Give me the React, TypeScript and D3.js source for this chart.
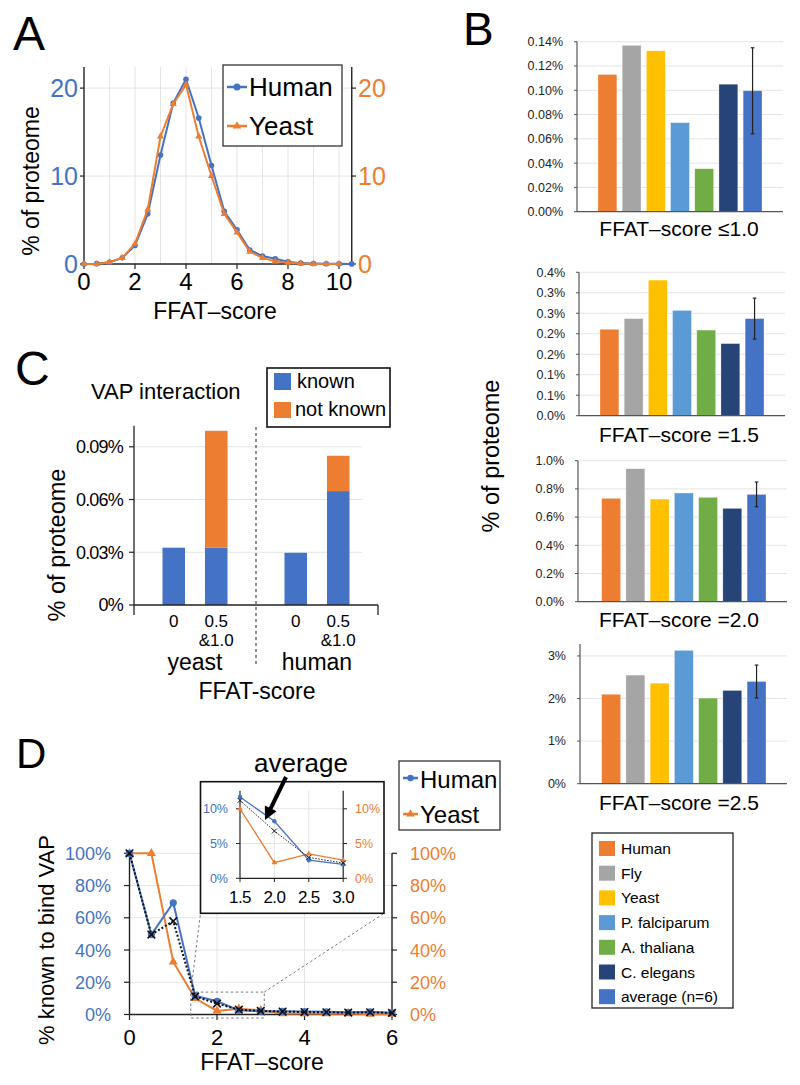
import React from 'react';
import * as d3 from 'd3';

const FONT = 'Liberation Sans, Arial, Helvetica, sans-serif';
const BLUE = '#4472C4';
const ORANGE = '#ED7D31';
const GRID = '#E4E4E4';

// ---------- Panel A data ----------
const scoresHumanA = [0, 0.5, 1, 1.5, 2, 2.5, 3, 3.5, 4, 4.5, 5, 5.5, 6, 6.5, 7, 7.5, 8, 8.5, 9, 9.5, 10, 10.5];
const humanA = [0, 0.04, 0.2, 0.7, 2.1, 5.7, 12.4, 18.3, 21.0, 16.6, 11.2, 6.0, 3.9, 1.6, 0.9, 0.6, 0.25, 0.1, 0.05, 0.03, 0.02, 0.01];
const scoresYeastA = [0, 0.5, 1, 1.5, 2, 2.5, 3, 3.5, 4, 4.5, 5, 5.5, 6, 6.5, 7, 7.5, 8, 8.5, 9, 9.5, 10];
const yeastA = [0, 0, 0.2, 0.7, 2.3, 6.2, 14.5, 18.2, 20.4, 14.5, 10.0, 5.7, 3.6, 1.4, 0.7, 0.3, 0.15, 0.05, 0, 0, 0];
const ticksYA = [0, 10, 20];
const ticksXA = [0, 2, 4, 6, 8, 10];
const gridXA = [1, 2, 3, 4, 5, 6, 7, 8, 9, 10];

// ---------- Panel B data ----------
const species = ['Human', 'Fly', 'Yeast', 'P. falciparum', 'A. thaliana', 'C. elegans', 'average (n=6)'];
const speciesColors = ['#ED7D31', '#A5A5A5', '#FFC000', '#5B9BD5', '#70AD47', '#264478', '#4472C4'];
const bTitles = ['FFAT–score ≤1.0', 'FFAT–score =1.5', 'FFAT–score =2.0', 'FFAT–score =2.5'];
const bValues10 = [0.113, 0.137, 0.1325, 0.0733, 0.0354, 0.105, 0.0996];
const bValues15 = [0.211, 0.237, 0.331, 0.257, 0.209, 0.176, 0.237];
const bValues20 = [0.733, 0.943, 0.728, 0.771, 0.74, 0.662, 0.761];
const bValues25 = [2.10, 2.55, 2.36, 3.13, 2.01, 2.19, 2.40];
const bErrors = [0.0354, 0.05, 0.088, 0.385];
const bTicks10 = [0, 0.02, 0.04, 0.06, 0.08, 0.10, 0.12, 0.14];
const bTickLabels10 = ['0.00%', '0.02%', '0.04%', '0.06%', '0.08%', '0.10%', '0.12%', '0.14%'];
const bTicks15 = [0, 0.05, 0.10, 0.15, 0.20, 0.25, 0.30, 0.35];
const bTickLabels15 = ['0.0%', '0.1%', '0.1%', '0.2%', '0.2%', '0.3%', '0.3%', '0.4%'];
const bTicks20 = [0, 0.2, 0.4, 0.6, 0.8, 1.0];
const bTickLabels20 = ['0.0%', '0.2%', '0.4%', '0.6%', '0.8%', '1.0%'];
const bTicks25 = [0, 1, 2, 3];
const bTickLabels25 = ['0%', '1%', '2%', '3%'];

// ---------- Panel C data ----------
const cGroups = ['yeast', 'human'];
const cScores = ['0', '0.5'];
const cScoreLabel1 = ['0', '0.5'];
const cScoreLabel2 = ['', '&1.0'];
const yeastKnownC = [0.0326, 0.0326];
const yeastNotKnownC = [0, 0.0665];
const humanKnownC = [0.0297, 0.0648];
const humanNotKnownC = [0, 0.0201];
const cTicks = [0, 0.03, 0.06, 0.09];
const cTickLabels = ['0%', '0.03%', '0.06%', '0.09%'];

// ---------- Panel D data ----------
const scoresD = [0, 0.5, 1, 1.5, 2, 2.5, 3, 3.5, 4, 4.5, 5, 5.5, 6];
const humanD = [100, 49.6, 69.3, 11.7, 8.2, 2.6, 2.0, 2.0, 1.8, 1.7, 1.4, 1.7, 1.1];
const yeastD = [100, 100, 32.6, 10.0, 2.25, 3.5, 2.6, 0.5, 0.6, 0.5, 0.6, 0.2, 0.3];
const averageD = [100, 49.6, 57.9, 11.2, 6.8, 3.0, 2.2, 1.8, 1.5, 1.4, 1.2, 1.4, 1.0];
const ticksYD = [0, 20, 40, 60, 80, 100];
const ticksXD = [0, 2, 4, 6];
const insetScores = [1.5, 2.0, 2.5, 3.0];
const insetTicksY = [0, 5, 10];

const tri = (size: number) => d3.symbol().type(d3.symbolTriangle).size(size)() as string;
const xMark = (x: number, y: number, s: number) => `M${x - s},${y - s}L${x + s},${y + s}M${x - s},${y + s}L${x + s},${y - s}`;

function PanelA() {
  const x = d3.scaleLinear().domain([0, 10.5]).range([84, 351.75]);
  const y = d3.scaleLinear().domain([0, 22.4]).range([264, 67]);
  const lineH = d3.line<number>().x((_, i) => x(scoresHumanA[i])).y((d) => y(d));
  const lineY = d3.line<number>().x((_, i) => x(scoresYeastA[i])).y((d) => y(d));
  const triPath = tri(22);
  return (
    <g>
      <text x={13} y={50} fontSize={48}>A</text>
      {gridXA.map((g) => (
        <line key={'gx' + g} x1={x(g)} x2={x(g)} y1={67} y2={264} stroke={GRID} strokeWidth={1} />
      ))}
      {ticksYA.slice(1).map((t) => (
        <line key={'gy' + t} x1={84} x2={351.75} y1={y(t)} y2={y(t)} stroke={GRID} strokeWidth={1} />
      ))}
      <line x1={84} x2={84} y1={67} y2={264} stroke="#222" strokeWidth={1.4} />
      <line x1={351.75} x2={351.75} y1={67} y2={264} stroke="#222" strokeWidth={1.4} />
      <line x1={84} x2={351.75} y1={264} y2={264} stroke="#222" strokeWidth={1.4} />
      {ticksYA.map((t) => (
        <g key={'ty' + t}>
          <line x1={80} x2={84} y1={y(t)} y2={y(t)} stroke="#222" strokeWidth={1.2} />
          <text x={78} y={y(t)} dy="0.36em" textAnchor="end" fontSize={25} fill={BLUE}>{t}</text>
          <line x1={351.75} x2={356} y1={y(t)} y2={y(t)} stroke="#222" strokeWidth={1.2} />
          <text x={358} y={y(t)} dy="0.36em" textAnchor="start" fontSize={25} fill={ORANGE}>{t}</text>
        </g>
      ))}
      {ticksXA.map((t) => (
        <g key={'tx' + t}>
          <line x1={x(t)} x2={x(t)} y1={264} y2={269} stroke="#222" strokeWidth={1.2} />
          <text x={x(t)} y={290} textAnchor="middle" fontSize={24}>{t}</text>
        </g>
      ))}
      <text x={215} y={319} textAnchor="middle" fontSize={23}>FFAT–score</text>
      <text transform="translate(39,181) rotate(-90)" textAnchor="middle" fontSize={23}>% of proteome</text>
      <path d={lineH(humanA) as string} fill="none" stroke={BLUE} strokeWidth={2} />
      {humanA.map((v, i) => (
        <circle key={'ha' + i} cx={x(scoresHumanA[i])} cy={y(v)} r={2.8} fill={BLUE} />
      ))}
      <path d={lineY(yeastA) as string} fill="none" stroke={ORANGE} strokeWidth={2} />
      {yeastA.map((v, i) => (
        <path key={'ya' + i} d={triPath} transform={`translate(${x(scoresYeastA[i])},${y(v)})`} fill={ORANGE} />
      ))}
      <rect x={223} y={65} width={119} height={81} fill="#fff" stroke="#333" strokeWidth={1.3} />
      <line x1={227} x2={247} y1={87} y2={87} stroke={BLUE} strokeWidth={2.5} />
      <circle cx={237} cy={87} r={3.5} fill={BLUE} />
      <text x={249} y={96} fontSize={26}>Human</text>
      <line x1={227} x2={247} y1={126} y2={126} stroke={ORANGE} strokeWidth={2.5} />
      <path d={tri(30)} transform="translate(237,126)" fill={ORANGE} />
      <text x={249} y={135} fontSize={26}>Yeast</text>
    </g>
  );
}

const bLayouts = [
  { axisX: 577, rightX: 783, baseY: 211.7, topY: 41.7, max: 0.14, barStart: 598, barEnd: 762, titleY: 236 },
  { axisX: 579, rightX: 785, baseY: 415.7, topY: 272.3, max: 0.35, barStart: 600, barEnd: 764, titleY: 441.5 },
  { axisX: 578, rightX: 787, baseY: 601.7, topY: 460.7, max: 1.0, barStart: 601.7, barEnd: 766, titleY: 626.7 },
  { axisX: 580, rightX: 787, baseY: 783.7, topY: 644, max: 3.28, barStart: 601.7, barEnd: 766, titleY: 810 },
];

function BarChartB({ idx, values, ticks, labels }: { idx: number; values: number[]; ticks: number[]; labels: string[] }) {
  const L = bLayouts[idx];
  const p = 0.22;
  const step = (L.barEnd - L.barStart) / (7 - p);
  const x = d3.scaleBand<string>().domain(species).range([L.barStart - (step * p) / 2, L.barEnd + (step * p) / 2]).paddingInner(p).paddingOuter(p / 2);
  const y = d3.scaleLinear().domain([0, L.max]).range([L.baseY, L.topY]);
  const err = bErrors[idx];
  const avgName = species[6];
  const cx = (x(avgName) as number) + x.bandwidth() / 2;
  const avgV = values[6];
  return (
    <g>
      {ticks.slice(1).map((t) => (
        <line key={'g' + t} x1={L.axisX} x2={L.rightX} y1={y(t)} y2={y(t)} stroke={GRID} strokeWidth={1} />
      ))}
      {values.map((v, i) => (
        <rect key={'b' + i} x={x(species[i])} y={y(v)} width={x.bandwidth()} height={L.baseY - y(v)} fill={speciesColors[i]} stroke="#ffffff" strokeOpacity={0.5} strokeWidth={0.6} />
      ))}
      <line x1={cx} x2={cx} y1={y(avgV + err)} y2={y(avgV - err)} stroke="#222" strokeWidth={1.2} />
      <line x1={cx - 1.8} x2={cx + 1.8} y1={y(avgV + err)} y2={y(avgV + err)} stroke="#222" strokeWidth={1.2} />
      <line x1={cx - 1.8} x2={cx + 1.8} y1={y(avgV - err)} y2={y(avgV - err)} stroke="#222" strokeWidth={1.2} />
      <line x1={L.axisX} x2={L.axisX} y1={L.topY} y2={L.baseY} stroke="#555" strokeWidth={1.2} />
      <line x1={L.axisX} x2={L.rightX} y1={L.baseY} y2={L.baseY} stroke="#555" strokeWidth={1.2} />
      {ticks.map((t, i) => (
        <g key={'t' + i}>
          <line x1={L.axisX - 3} x2={L.axisX} y1={y(t)} y2={y(t)} stroke="#555" strokeWidth={1} />
          <text x={L.axisX - 14} y={y(t)} dy="0.35em" textAnchor="end" fontSize={12.5} fill="#222">{labels[i]}</text>
        </g>
      ))}
      <text x={679} y={L.titleY} textAnchor="middle" fontSize={21}>{bTitles[idx]}</text>
    </g>
  );
}

function PanelB() {
  return (
    <g>
      <text x={463} y={45} fontSize={46}>B</text>
      <BarChartB idx={0} values={bValues10} ticks={bTicks10} labels={bTickLabels10} />
      <BarChartB idx={1} values={bValues15} ticks={bTicks15} labels={bTickLabels15} />
      <BarChartB idx={2} values={bValues20} ticks={bTicks20} labels={bTickLabels20} />
      <BarChartB idx={3} values={bValues25} ticks={bTicks25} labels={bTickLabels25} />
      <text transform="translate(499,456) rotate(-90)" textAnchor="middle" fontSize={23.5}>% of proteome</text>
      <rect x={592} y={833} width={141} height={175} fill="#fff" stroke="#222" strokeWidth={1.3} />
      {species.map((s, i) => (
        <g key={s}>
          <rect x={599} y={841 + i * 24.7} width={16} height={15} fill={speciesColors[i]} />
          <text x={621} y={854 + i * 24.7} fontSize={15.5}>{s}</text>
        </g>
      ))}
    </g>
  );
}

function PanelC() {
  const xg = d3.scaleBand<string>().domain(cGroups).range([134, 378]).padding(0);
  const xi = d3.scaleBand<string>().domain(cScores).range([0, xg.bandwidth()]).paddingInner(0.47).paddingOuter(0.67);
  const y = d3.scaleLinear().domain([0, 0.102]).range([605, 425.7]);
  const known = [yeastKnownC, humanKnownC];
  const notKnown = [yeastNotKnownC, humanNotKnownC];
  return (
    <g>
      <text x={15} y={385} fontSize={48}>C</text>
      <text x={91} y={399} fontSize={22}>VAP interaction</text>
      {cTicks.slice(1).map((t) => (
        <line key={'g' + t} x1={134} x2={362} y1={y(t)} y2={y(t)} stroke={GRID} strokeWidth={1} />
      ))}
      {cGroups.map((g, gi) => (
        <g key={g}>
          {cScores.map((s, si) => {
            const bx = (xg(g) as number) + (xi(s) as number);
            const k = known[gi][si];
            const nk = notKnown[gi][si];
            const cxm = bx + xi.bandwidth() / 2;
            return (
              <g key={s}>
                <rect x={bx} y={y(k)} width={xi.bandwidth()} height={605 - y(k)} fill={BLUE} />
                {nk > 0 && <rect x={bx} y={y(k + nk)} width={xi.bandwidth()} height={y(k) - y(k + nk)} fill={ORANGE} />}
                <text x={cxm} y={626.5} textAnchor="middle" fontSize={17}>{cScoreLabel1[si]}</text>
                {cScoreLabel2[si] && <text x={cxm} y={645.5} textAnchor="middle" fontSize={17}>{cScoreLabel2[si]}</text>}
              </g>
            );
          })}
          <text x={(xg(g) as number) + (xi(cScores[0]) as number) + (xi(cScores[1]) as number + xi.bandwidth() - (xi(cScores[0]) as number)) / 2} y={670} textAnchor="middle" fontSize={23}>{g}</text>
        </g>
      ))}
      <line x1={256} x2={256} y1={427} y2={667} stroke="#555" strokeWidth={1.3} strokeDasharray="3,3" />
      <line x1={134} x2={134} y1={425.7} y2={605} stroke="#222" strokeWidth={1.3} />
      <line x1={134} x2={378} y1={605} y2={605} stroke="#222" strokeWidth={1.3} />
      <line x1={134} x2={134} y1={605} y2={615} stroke="#222" strokeWidth={1.3} />
      <line x1={378} x2={378} y1={605} y2={615} stroke="#222" strokeWidth={1.3} />
      {cTicks.map((t, i) => (
        <g key={'t' + i}>
          <line x1={129} x2={134} y1={y(t)} y2={y(t)} stroke="#222" strokeWidth={1.2} />
          <text x={123} y={y(t)} dy="0.36em" textAnchor="end" fontSize={18} letterSpacing={-0.8}>{cTickLabels[i]}</text>
        </g>
      ))}
      <text x={257} y={699} textAnchor="middle" fontSize={23}>FFAT-score</text>
      <text transform="translate(65,545) rotate(-90)" textAnchor="middle" fontSize={23.5}>% of proteome</text>
      <rect x={267} y={368} width={123} height={59} fill="#fff" stroke="#111" strokeWidth={1.6} />
      <rect x={274} y={373} width={17} height={17} fill={BLUE} />
      <text x={297} y={388} fontSize={20}>known</text>
      <rect x={274} y={402} width={17} height={16} fill={ORANGE} />
      <text x={295} y={416} fontSize={20}>not known</text>
    </g>
  );
}

function PanelD() {
  const x = d3.scaleLinear().domain([0, 6]).range([129.5, 392]);
  const y = d3.scaleLinear().domain([0, 100]).range([1014.5, 853.3]);
  const line = d3.line<number>().x((_, i) => x(scoresD[i])).y((d) => y(d));
  const xi = d3.scaleLinear().domain([1.5, 3.0]).range([240, 343.2]);
  const yi = d3.scaleLinear().domain([0, 12.6]).range([878.3, 790.7]);
  const off = 3;
  const lineI = d3.line<number>().x((_, i) => xi(insetScores[i])).y((d) => yi(d));
  const insetH = humanD.slice(off, off + 4);
  const insetY = yeastD.slice(off, off + 4);
  const insetA = averageD.slice(off, off + 4);
  const rx0 = x(1.4), rx1 = x(3.08), ry0 = y(13.9), ry1 = y(-2.2);
  const ax0 = 286, ay0 = 777, ax1 = 265, ay1 = 820;
  const dx = ax1 - ax0, dy = ay1 - ay0, len = Math.hypot(dx, dy);
  const ux = dx / len, uy = dy / len, nx = -uy, ny = ux;
  const hl = 13, hw = 6.5;
  const triMain = tri(36);
  const triInset = tri(14);
  return (
    <g>
      <text x={16} y={768} fontSize={42}>D</text>
      {[2, 4].map((g) => (
        <line key={'gx' + g} x1={x(g)} x2={x(g)} y1={853.3} y2={1014.5} stroke={GRID} strokeWidth={1} />
      ))}
      {ticksYD.slice(1).map((t) => (
        <line key={'gy' + t} x1={129.5} x2={392} y1={y(t)} y2={y(t)} stroke={GRID} strokeWidth={1} />
      ))}
      <line x1={129.5} x2={129.5} y1={853.3} y2={1014.5} stroke="#222" strokeWidth={1.4} />
      <line x1={392} x2={392} y1={853.3} y2={1014.5} stroke="#222" strokeWidth={1.4} />
      <line x1={129.5} x2={392} y1={1014.5} y2={1014.5} stroke="#222" strokeWidth={1.4} />
      {ticksYD.map((t) => (
        <g key={'ty' + t}>
          <line x1={124} x2={129.5} y1={y(t)} y2={y(t)} stroke="#222" strokeWidth={1.2} />
          <text x={111} y={y(t)} dy="0.36em" textAnchor="end" fontSize={18} fill={BLUE}>{t + '%'}</text>
          <line x1={392} x2={397} y1={y(t)} y2={y(t)} stroke="#222" strokeWidth={1.2} />
          <text x={410} y={y(t)} dy="0.36em" textAnchor="start" fontSize={18} fill={ORANGE}>{t + '%'}</text>
        </g>
      ))}
      {ticksXD.map((t) => (
        <g key={'tx' + t}>
          <line x1={x(t)} x2={x(t)} y1={1014.5} y2={1020} stroke="#222" strokeWidth={1.2} />
          <text x={x(t)} y={1045} textAnchor="middle" fontSize={22}>{t}</text>
        </g>
      ))}
      <text x={262} y={1070} textAnchor="middle" fontSize={23}>FFAT–score</text>
      <text transform="translate(54,940) rotate(-90)" textAnchor="middle" fontSize={22}>% known to bind VAP</text>
      <path d={line(yeastD) as string} fill="none" stroke={ORANGE} strokeWidth={2} />
      {yeastD.map((v, i) => (
        <path key={'yd' + i} d={triMain} transform={`translate(${x(scoresD[i])},${y(v)})`} fill={ORANGE} />
      ))}
      <path d={line(humanD) as string} fill="none" stroke={BLUE} strokeWidth={2} />
      {humanD.map((v, i) => (
        <circle key={'hd' + i} cx={x(scoresD[i])} cy={y(v)} r={3.6} fill={BLUE} />
      ))}
      <path d={line(averageD) as string} fill="none" stroke="#111" strokeWidth={2} strokeDasharray="2,2" />
      {averageD.map((v, i) => (
        <path key={'ad' + i} d={xMark(x(scoresD[i]), y(v), 3.8)} stroke="#111" strokeWidth={1.6} />
      ))}
      <rect x={rx0} y={ry0} width={rx1 - rx0} height={ry1 - ry0} fill="none" stroke="#777" strokeWidth={1} strokeDasharray="2.5,2.5" />
      <line x1={rx0} y1={ry0} x2={200.5} y2={913.3} stroke="#777" strokeWidth={1} strokeDasharray="2.5,2.5" />
      <line x1={rx1} y1={ry0} x2={383} y2={914} stroke="#777" strokeWidth={1} strokeDasharray="2.5,2.5" />
      <rect x={200.5} y={781.7} width={183.5} height={131.6} fill="#fff" stroke="#111" strokeWidth={1.6} />
      {[2.0, 2.5].map((g) => (
        <line key={'igx' + g} x1={xi(g)} x2={xi(g)} y1={790.7} y2={878.3} stroke={GRID} strokeWidth={1} />
      ))}
      {insetTicksY.slice(1).map((t) => (
        <line key={'igy' + t} x1={240} x2={343.2} y1={yi(t)} y2={yi(t)} stroke={GRID} strokeWidth={1} />
      ))}
      <line x1={240} x2={240} y1={790.7} y2={878.3} stroke="#222" strokeWidth={1.2} />
      <line x1={343.2} x2={343.2} y1={790.7} y2={878.3} stroke="#222" strokeWidth={1.2} />
      <line x1={240} x2={343.2} y1={878.3} y2={878.3} stroke="#222" strokeWidth={1.2} />
      {insetTicksY.map((t) => (
        <g key={'ity' + t}>
          <line x1={236} x2={240} y1={yi(t)} y2={yi(t)} stroke="#222" strokeWidth={1} />
          <text x={228} y={yi(t)} dy="0.36em" textAnchor="end" fontSize={12.5} fill={BLUE}>{t + '%'}</text>
          <line x1={343.2} x2={347} y1={yi(t)} y2={yi(t)} stroke="#222" strokeWidth={1} />
          <text x={355} y={yi(t)} dy="0.36em" textAnchor="start" fontSize={12.5} fill={ORANGE}>{t + '%'}</text>
        </g>
      ))}
      {insetScores.map((t) => (
        <g key={'itx' + t}>
          <line x1={xi(t)} x2={xi(t)} y1={878.3} y2={882} stroke="#222" strokeWidth={1} />
          <text x={xi(t)} y={902.7} textAnchor="middle" fontSize={17} letterSpacing={-0.6}>{t.toFixed(1)}</text>
        </g>
      ))}
      <path d={lineI(insetY) as string} fill="none" stroke={ORANGE} strokeWidth={1.3} />
      {insetY.map((v, i) => (
        <path key={'iy' + i} d={triInset} transform={`translate(${xi(insetScores[i])},${yi(v)})`} fill={ORANGE} />
      ))}
      <path d={lineI(insetH) as string} fill="none" stroke={BLUE} strokeWidth={1.3} />
      {insetH.map((v, i) => (
        <circle key={'ih' + i} cx={xi(insetScores[i])} cy={yi(v)} r={2.2} fill={BLUE} />
      ))}
      <path d={lineI(insetA) as string} fill="none" stroke="#222" strokeWidth={1} strokeDasharray="1.5,1.5" />
      {insetA.map((v, i) => (
        <path key={'ia' + i} d={xMark(xi(insetScores[i]), yi(v), 2.5)} stroke="#222" strokeWidth={1} />
      ))}
      <text x={301} y={771.5} textAnchor="middle" fontSize={26}>average</text>
      <line x1={ax0} y1={ay0} x2={ax1 - ux * (hl - 2)} y2={ay1 - uy * (hl - 2)} stroke="#000" strokeWidth={4} />
      <path d={`M${ax1},${ay1}L${ax1 - ux * hl + nx * hw},${ay1 - uy * hl + ny * hw}L${ax1 - ux * hl - nx * hw},${ay1 - uy * hl - ny * hw}Z`} fill="#000" />
      <rect x={399} y={761} width={101} height={69} fill="#fff" stroke="#333" strokeWidth={1.3} />
      <line x1={403} x2={418} y1={778} y2={778} stroke={BLUE} strokeWidth={2.5} />
      <circle cx={410.5} cy={778} r={3.2} fill={BLUE} />
      <text x={420} y={788} fontSize={24}>Human</text>
      <line x1={403} x2={418} y1={814} y2={814} stroke={ORANGE} strokeWidth={2.5} />
      <path d={tri(30)} transform="translate(410.5,814)" fill={ORANGE} />
      <text x={420} y={823} fontSize={24}>Yeast</text>
    </g>
  );
}

export default function App() {
  return (
    <svg width={800} height={1085} style={{ position: 'absolute', left: 0, top: 0 }} fontFamily={FONT}>
      <rect x={0} y={0} width={800} height={1085} fill="#fff" />
      <PanelA />
      <PanelB />
      <PanelC />
      <PanelD />
    </svg>
  );
}
